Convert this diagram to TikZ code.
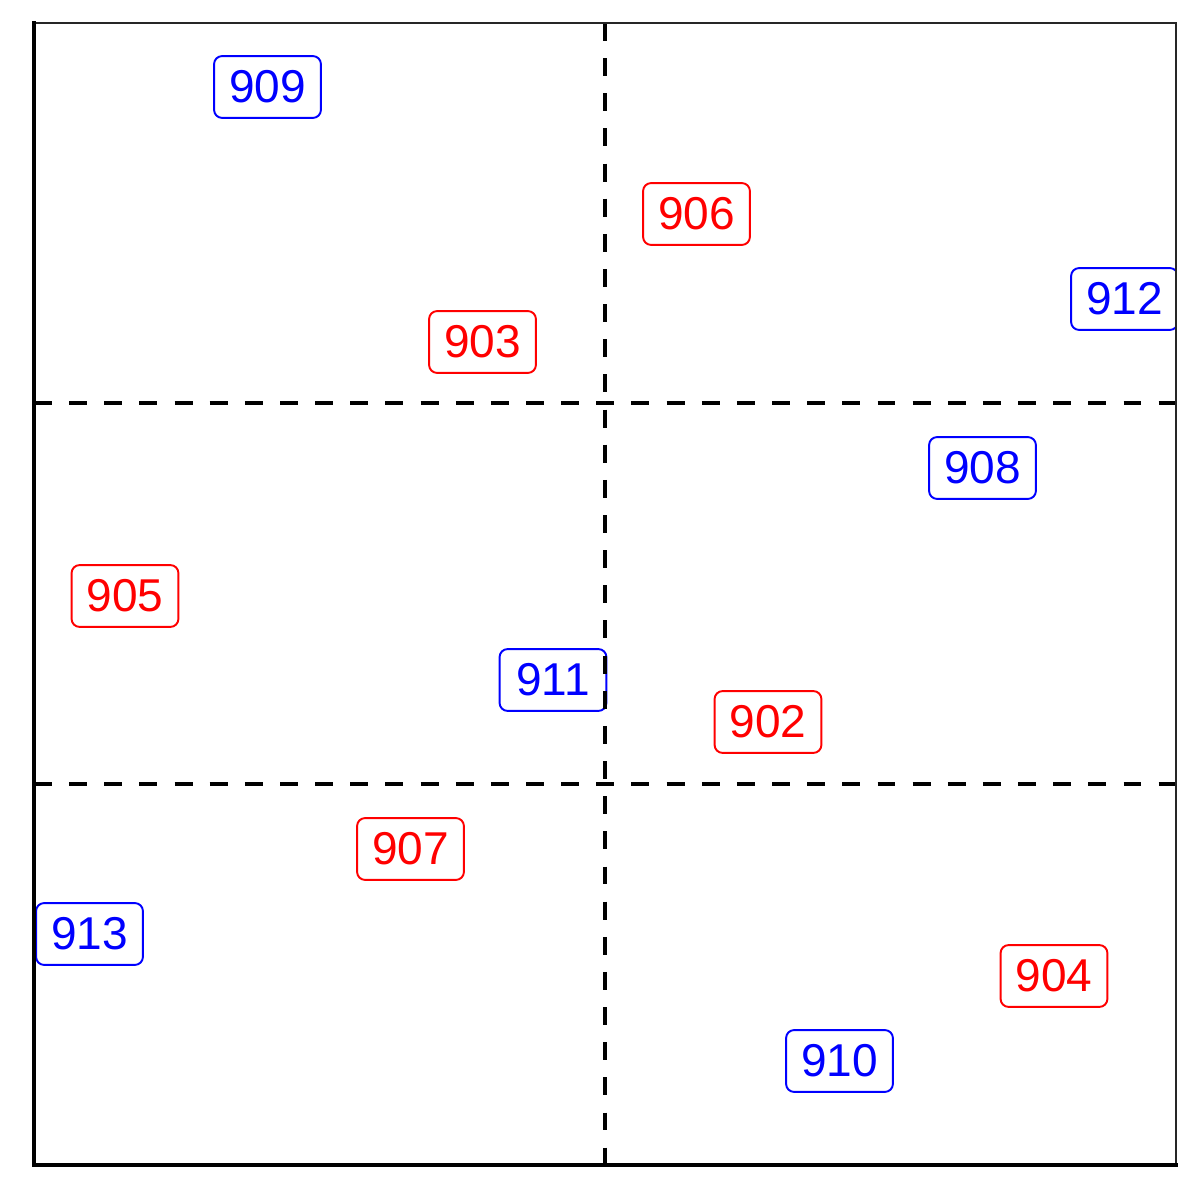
\documentclass[tikz,border=0pt]{standalone}
\usepackage{fontspec}
\setmainfont{Liberation Sans}
\usepackage{tikz}
\usetikzlibrary{calc}
\tikzset{inv/.style={opacity=0}}

\begin{document}
\begin{tikzpicture}
\useasboundingbox (0,0) rectangle (12,12);
\tikzstyle{lab} = [draw, rounded corners=2.3pt, minimum width=30.4pt, minimum height=17.6pt, inner sep=0pt, line width=0.55pt, font=\fontsize{13.1}{15}\selectfont]
\tikzstyle{redlab} = [lab, draw=red, text=red]
\tikzstyle{bluelab} = [lab, draw=blue, text=blue]
\tikzstyle{cut} = [line width=1.1pt, dash pattern=on 5.1pt off 4.9pt]

\coordinate (SW) at (0.34, 0.35);
\coordinate (NE) at (11.76, 11.77);

\begin{scope}
\clip (SW) rectangle (NE);
\node[bluelab](l909) at (2.675, 11.13){909};
\node[redlab](l906) at (6.965, 9.86){906};
\node[bluelab](l912) at (11.245, 9.01){912};
\node[redlab](l903) at (4.825, 8.58){903};
\node[bluelab](l908) at (9.825, 7.32){908};
\node[redlab](l905) at (1.25, 6.04){905};
\node[bluelab](l911) at (5.53, 5.20){911};
\node[redlab](l902) at (7.68, 4.78){902};
\node[redlab](l907) at (4.105, 3.51){907};
\node[bluelab](l913) at (0.895, 2.66){913};
\node[redlab](l904) at (10.54, 2.24){904};
\node[bluelab](l910) at (8.395, 1.39){910};
\end{scope}

% dashed split lines
\coordinate (vt) at (6.05, 11.77);
\coordinate (vb) at (6.05, 0.35);
\coordinate (ha) at (0.34, 7.97);
\coordinate (hb) at (11.76, 7.97);
\coordinate (hc) at (0.34, 4.16);
\coordinate (hd) at (11.76, 4.16);
\draw[cut] (vt) -- (vb);
\draw[cut] (ha) -- (hb);
\draw[cut] (hc) -- (hd);

% frame
\draw[line width=0.6pt, black!85] (SW |- NE) -- (NE) -- (NE |- SW);
\draw[line width=1.2pt, line cap=rect] (SW |- NE) -- (SW) -- (NE |- SW);
\end{tikzpicture}
\end{document}
